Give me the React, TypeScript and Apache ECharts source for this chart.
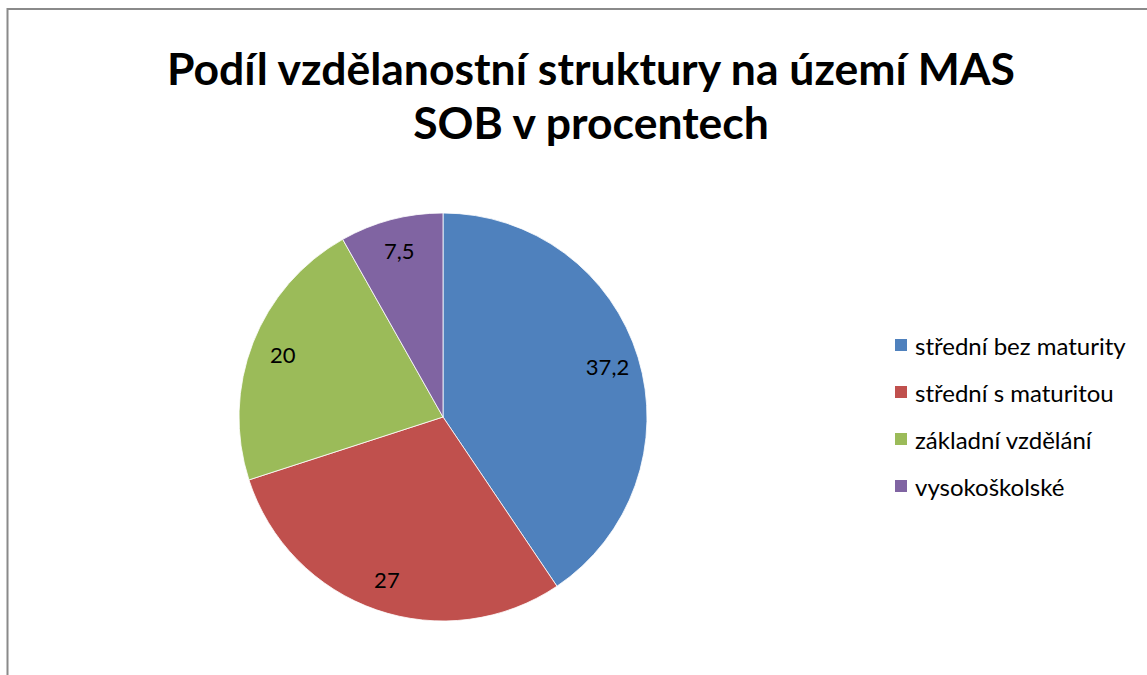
import React, { useEffect, useRef } from "react";
import * as echarts from "echarts";

const categories = ["střední bez maturity", "střední s maturitou", "základní vzdělání", "vysokoškolské"];
const values = [37.2, 27, 20, 7.5];
const colors = ["#4F81BD", "#C0504D", "#9BBB59", "#8064A2"];
const titleText = "Podíl vzdělanostní struktury na území MAS\nSOB v procentech";

export default function App() {
  const ref = useRef<HTMLDivElement>(null);
  useEffect(() => {
    if (!ref.current) return;
    const chart = echarts.init(ref.current, undefined, { renderer: "svg" });
    const data = categories.map((name, i) => ({ name, value: values[i], itemStyle: { color: colors[i] } }));
    const font = "Lato, 'Open Sans', sans-serif";
    chart.setOption({
      animation: false,
      backgroundColor: "#ffffff",
      title: {
        text: titleText,
        left: 586,
        textAlign: "center",
        top: 35,
        textStyle: { fontFamily: font, fontWeight: "bold", fontSize: 44.5, lineHeight: 54, color: "#000" },
      },
      legend: {
        orient: "vertical",
        left: 888,
        top: 328,
        icon: "rect",
        itemWidth: 14,
        itemHeight: 14,
        itemGap: 23,
        textStyle: { fontFamily: font, fontSize: 24, color: "#000", padding: [0, 0, 0, 2] },
        data: categories,
      },
      graphic: [
        {
          type: "rect",
          shape: { x: 7.5, y: 9, width: 1300, height: 800 },
          style: { fill: "none", stroke: "#8a8a8a", lineWidth: 2 },
          silent: true,
        },
      ],
      series: [
        {
          type: "pie",
          center: [443, 417],
          radius: [0, 204],
          startAngle: 90,
          clockwise: true,
          label: { show: false },
          labelLine: { show: false },
          itemStyle: { borderColor: "#ffffff", borderWidth: 0.8 },
          emphasis: { disabled: true },
          data,
        },
        {
          type: "pie",
          center: [443, 417],
          radius: [134, 204],
          startAngle: 90,
          clockwise: true,
          silent: true,
          itemStyle: { color: "rgba(0,0,0,0)", borderWidth: 0 },
          label: {
            show: true,
            position: "inside",
            fontFamily: font,
            fontSize: 22,
            color: "#000",
            formatter: (p: any) => String(p.value).replace(".", ","),
          },
          labelLine: { show: false },
          emphasis: { disabled: true },
          legendHoverLink: false,
          data: categories.map((name, i) => ({ name: name + " ", value: values[i] })),
        },
      ],
    });
    return () => chart.dispose();
  }, []);
  return (
    <div
      ref={ref}
      style={{ position: "absolute", left: 0, top: 0, width: 1147, height: 675 }}
    />
  );
}
